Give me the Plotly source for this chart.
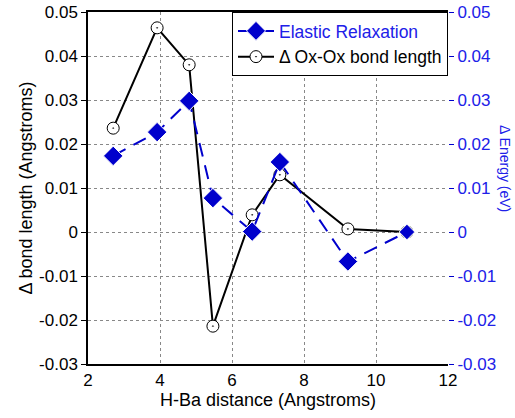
import plotly.graph_objects as go

distance = [2.7, 3.92, 4.81, 5.47, 6.56, 7.33, 9.22, 10.86]
bond_length = [0.0236, 0.0464, 0.038, -0.0214, 0.0039, 0.013, 0.0007, 0.0]
elastic = [0.0173, 0.0227, 0.0298, 0.0077, 0.0001, 0.0159, -0.0067, 0.0]

BLUE = "#0000CC"
TBLUE = "#2020E8"
FONT = "Liberation Sans, Arial, sans-serif"

fig = go.Figure()
fig.add_trace(go.Scatter(
    x=distance, y=elastic, yaxis="y2", mode="lines+markers",
    name="<span style='color:%s'>Elastic Relaxation</span>" % TBLUE,
    line=dict(color=BLUE, width=2, dash="14px,9px"),
    marker=dict(symbol="diamond", size=[15] * (len(distance) - 1) + [12],
                color=BLUE, opacity=1),
))
fig.add_trace(go.Scatter(
    x=distance, y=bond_length, mode="lines+markers",
    name="\u0394 Ox-Ox bond length",
    line=dict(color="black", width=2),
    marker=dict(symbol="circle-dot", size=12, color="white", opacity=1,
                line=dict(color="black", width=1)),
))

ticks = [-0.03, -0.02, -0.01, 0, 0.01, 0.02, 0.03, 0.04, 0.05]
ticktext = ["-0.03", "-0.02", "-0.01", "0", "0.01", "0.02", "0.03", "0.04", "0.05"]

fig.update_layout(
    width=515, height=418,
    margin=dict(l=88, r=67, t=12, b=54, autoexpand=False),
    plot_bgcolor="white", paper_bgcolor="white",
    font=dict(family=FONT, size=15, color="black"),
    showlegend=True,
    legend=dict(x=1, y=1, xanchor="right", yanchor="top",
                bordercolor="black", borderwidth=1, bgcolor="white",
                font=dict(size=17.5), tracegroupgap=0,
                itemwidth=36),
    xaxis=dict(range=[2, 12], tickvals=[2, 4, 6, 8, 10, 12],
               showline=True, linecolor="black", linewidth=1.5, mirror=True,
               ticks="",
               showgrid=True, gridcolor="#888888", griddash="dot", gridwidth=1,
               zeroline=False, automargin=False,
               title=dict(text="H-Ba distance (Angstroms)", standoff=4),
               tickfont=dict(size=17)),
    yaxis=dict(range=[-0.03, 0.05], tickvals=ticks, ticktext=ticktext,
               showline=True, linecolor="black", linewidth=1.5,
               ticks="outside", ticklen=5, tickcolor="black",
               showgrid=True, gridcolor="#888888", griddash="dot", gridwidth=1,
               zeroline=False, automargin=False,
               title=dict(text="\u0394 bond length (Angstroms)", standoff=2),
               tickfont=dict(size=17)),
    yaxis2=dict(range=[-0.03, 0.05], tickvals=ticks, ticktext=ticktext,
                overlaying="y", side="right",
                showline=False, automargin=False,
                ticks="outside", ticklen=5, tickcolor=BLUE,
                showgrid=False, zeroline=False,
                tickfont=dict(size=17, color=TBLUE)),
    annotations=[dict(
        text="\u0394 Energy (eV)", textangle=90,
        xref="paper", yref="paper", x=1.158, y=0.554,
        xanchor="center", yanchor="middle", showarrow=False,
        font=dict(size=14, color=TBLUE),
    )],
)

fig.write_html("out.html")
